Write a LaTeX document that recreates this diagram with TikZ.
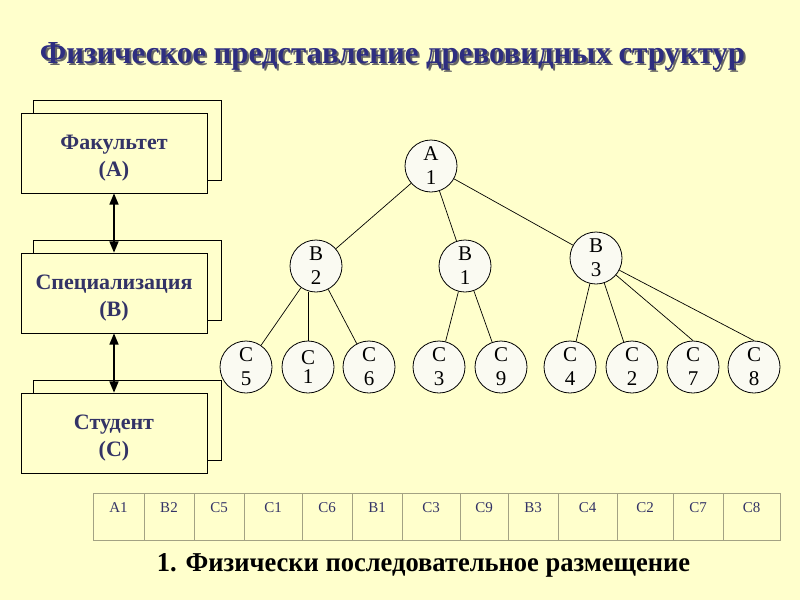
\documentclass[tikz,border=0pt]{standalone}
\usepackage{fontspec}
\setmainfont{Liberation Serif}
\usepackage{graphicx}
\usepackage{tikz}
\usetikzlibrary{positioning}
\usetikzlibrary{shapes,arrows}
\definecolor{slideback}{HTML}{FFFFCC}
\definecolor{titleblue}{HTML}{2E2E80}
\definecolor{boxblue}{HTML}{333366}
\definecolor{vertexfill}{HTML}{FAFAF2}
\definecolor{rulegray}{HTML}{A3A283}
\tikzset{%
  block/.style      = {draw, line width=0.9pt, rectangle, fill=slideback,
    minimum width=186pt, minimum height=80pt}, % front sheet
  backblock/.style  = {draw, line width=0.9pt, rectangle, fill=slideback,
    minimum width=188pt, minimum height=80pt}, % sheet behind
  blocktext/.style  = {align=center, text=boxblue,
    font=\fontsize{22}{27}\selectfont\bfseries},
  vertex/.style     = {draw, circle, fill=vertexfill, line width=0.8pt,
    minimum size=52pt, inner sep=0pt, align=center,
    font=\fontsize{21}{24}\selectfont},
  branch/.style     = {line width=0.7pt},
  cell/.style       = {draw=rulegray, line width=1pt},
  celltext/.style   = {text=boxblue, font=\fontsize{15}{17}\selectfont},
  link/.style       = {<->, line width=1.6pt}
}

\begin{document}
\begin{tikzpicture}[x=1pt, y=-1pt, >=triangle 45]

	\fill[slideback] (0,0) rectangle (800,600);
	\useasboundingbox (0,0) rectangle (800,600);

	% title
	\draw node at (394.5,65) [anchor=base, text=black!60] (titleshadow)
		{\resizebox{705pt}{21pt}{\bfseries Физическое представление древовидных структур}};
	\draw node at (392.5,63) [anchor=base, text=titleblue] (title)
		{\resizebox{705pt}{21pt}{\bfseries Физическое представление древовидных структур}};

	% levels
	\draw node at (127,140) [backblock] (facback) {};
	\draw node at (114,153) [block] (fac) {};
	\draw node at (114,158) [blocktext] (factext) {Факультет\\(А)};
	\draw node at (127,280) [backblock] (specback) {};
	\draw node at (114,293) [block] (spec) {};
	\draw node at (114,298) [blocktext] (spectext) {Специализация\\(В)};
	\draw node at (127,420) [backblock] (studback) {};
	\draw node at (114,433) [block] (stud) {};
	\draw node at (114,438) [blocktext] (studtext) {Студент\\(С)};

	\draw[link] (fac.south) -- (spec.north);
	\draw[link] (spec.south) -- (stud.north);

	% tree
	\draw node at (431,166) [vertex] (a1) {A\\1};
	\draw node at (316,266) [vertex] (b2) {B\\2};
	\draw node at (465,266) [vertex] (b1) {B\\1};
	\draw node at (596,258) [vertex] (b3) {B\\3};

	\draw node at (246,367) [vertex] (c5) {C\\5};
	\draw node at (308,367) [vertex] (c1) {C\\[-5pt]1};
	\draw node at (369,367) [vertex] (c6) {C\\6};
	\draw node at (439,367) [vertex] (c3) {C\\3};
	\draw node at (501,367) [vertex] (c9) {C\\9};
	\draw node at (570,367) [vertex] (c4) {C\\4};
	\draw node at (632,367) [vertex] (c2) {C\\2};
	\draw node at (693,367) [vertex] (c7) {C\\7};
	\draw node at (754,367) [vertex] (c8) {C\\8};

	\foreach \parent/\child in {a1/b2, a1/b1, a1/b3, b2/c5, b2/c6, b1/c3, b1/c9, b3/c4, b3/c2}{
		\draw[branch] (\parent) -- (\child);
	}
	\draw[branch] (c1.north) -- (c1.north |- b2.south);
	\draw[branch] (b3) -- (c7.north);
	\draw[branch] (b3) -- (c8.north);

	% sequential layout
	\foreach \xa/\xb/\entry [count=\i] in {93/144/A1, 144/194/B2, 194/244/C5, 244/302/C1,
		302/352/C6, 352/402/B1, 402/460/C3, 460/508/C9, 508/558/B3, 558/617/C4,
		617/673/C2, 673/723/C7, 723/780/C8}{
		\draw[cell] (\xa,493) rectangle (\xb,540);
		\draw node at ({(\xa+\xb)/2},508) [celltext] (cell\i) {\entry};
	}

	\draw node at (423.5,571) [anchor=base] (caption)
		{\resizebox{533pt}{18pt}{\bfseries 1. Физически последовательное размещение}};

\end{tikzpicture}
\end{document}
